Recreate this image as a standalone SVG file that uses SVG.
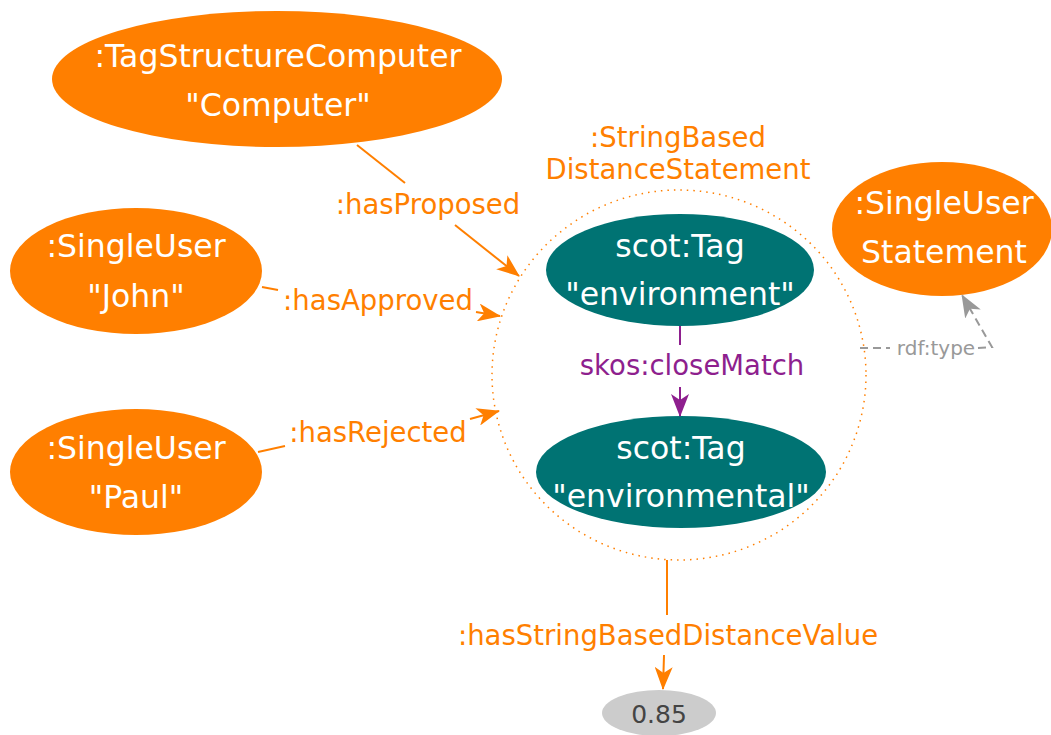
<svg xmlns="http://www.w3.org/2000/svg" width="1051" height="735" viewBox="0 0 1051 735">
<defs>
<style>
.on{fill:#FF7F00}
.tn{fill:#007373}
.nt{font-family:"DejaVu Sans","Liberation Sans",sans-serif;font-size:31.5px;fill:#fff;text-anchor:middle}
.el{font-family:"DejaVu Sans","Liberation Sans",sans-serif;font-size:27.5px;fill:#FF7F00;text-anchor:middle}
.oe{stroke:#FF7F00;stroke-width:2;fill:none}
.pe{stroke:#8E1F8E;stroke-width:2;fill:none}
.ge{stroke:#999;stroke-width:2;fill:none;stroke-dasharray:8,5}
</style>
<marker id="ao" markerWidth="23" markerHeight="18" refX="22" refY="9" orient="auto" markerUnits="userSpaceOnUse" viewBox="0 0 23 18"><path d="M0,0 L23,9 L0,18 L6,9 Z" fill="#FF7F00"/></marker>
<marker id="ap" markerWidth="23" markerHeight="18" refX="22" refY="9" orient="auto" markerUnits="userSpaceOnUse" viewBox="0 0 23 18"><path d="M0,0 L23,9 L0,18 L6,9 Z" fill="#8E1F8E"/></marker>
<marker id="ag" markerWidth="23" markerHeight="18" refX="22" refY="9" orient="auto" markerUnits="userSpaceOnUse" viewBox="0 0 23 18"><path d="M0,0 L23,9 L0,18 L6,9 Z" fill="#999"/></marker>
</defs>
<rect width="1051" height="735" fill="#fff"/>
<g id="statement">
<ellipse cx="679" cy="375" rx="187" ry="185" fill="none" stroke="#FF7F00" stroke-width="1.5" stroke-dasharray="1.5,5"/>
<text class="el" x="678" y="147">:StringBased</text>
<text class="el" x="678" y="179">DistanceStatement</text>
</g>
<g id="computer">
<ellipse class="on" cx="277" cy="79" rx="225" ry="68"/>
<text class="nt" x="278" y="67">:TagStructureComputer</text>
<text class="nt" x="278" y="116">"Computer"</text>
</g>
<g id="john">
<ellipse class="on" cx="136" cy="271" rx="126" ry="63"/>
<text class="nt" x="136" y="257">:SingleUser</text>
<text class="nt" x="136" y="307">"John"</text>
</g>
<g id="paul">
<ellipse class="on" cx="136" cy="472" rx="126" ry="63"/>
<text class="nt" x="136" y="459">:SingleUser</text>
<text class="nt" x="136" y="508">"Paul"</text>
</g>
<g id="singleuserstatement">
<ellipse class="on" cx="942" cy="229" rx="110" ry="67"/>
<text class="nt" x="944" y="214">:SingleUser</text>
<text class="nt" x="944" y="263">Statement</text>
</g>
<g id="tag1">
<ellipse class="tn" cx="680" cy="270" rx="134" ry="56"/>
<text class="nt" x="680" y="257">scot:Tag</text>
<text class="nt" x="680" y="305">"environment"</text>
</g>
<g id="tag2">
<ellipse class="tn" cx="681" cy="472" rx="145" ry="56"/>
<text class="nt" x="681" y="459">scot:Tag</text>
<text class="nt" x="681" y="507">"environmental"</text>
</g>
<g id="value">
<ellipse cx="659" cy="713" rx="57" ry="23" fill="#CCCCCC"/>
<text x="659" y="723" text-anchor="middle" font-family="DejaVu Sans, Liberation Sans, sans-serif" font-size="25" fill="#444">0.85</text>
</g>
<g id="connectors">
<line class="oe" x1="357" y1="145" x2="405" y2="183"/>
<text class="el" x="428" y="214">:hasProposed</text>
<line class="oe" x1="455" y1="225" x2="519" y2="276" marker-end="url(#ao)"/>
<line class="oe" x1="262" y1="287" x2="278" y2="290"/>
<text class="el" x="378" y="310">:hasApproved</text>
<line class="oe" x1="476" y1="312" x2="500" y2="316" marker-end="url(#ao)"/>
<line class="oe" x1="258" y1="452" x2="285" y2="446"/>
<text class="el" x="378" y="442">:hasRejected</text>
<line class="oe" x1="470" y1="419" x2="499" y2="411" marker-end="url(#ao)"/>
<line class="pe" x1="680" y1="326" x2="680" y2="345"/>
<text x="692" y="375" text-anchor="middle" font-family="DejaVu Sans, Liberation Sans, sans-serif" font-size="27.5" fill="#8E1F8E">skos:closeMatch</text>
<line class="pe" x1="680" y1="387" x2="680" y2="416" marker-end="url(#ap)"/>
<line class="oe" x1="667" y1="560" x2="667" y2="615"/>
<text class="el" x="668" y="645">:hasStringBasedDistanceValue</text>
<line class="oe" x1="664" y1="655" x2="663" y2="689" marker-end="url(#ao)"/>
<polyline class="ge" points="860,348 890,348"/>
<text x="936" y="355" text-anchor="middle" font-family="DejaVu Sans, Liberation Sans, sans-serif" font-size="20" fill="#999">rdf:type</text>
<polyline class="ge" points="978,348 992,347 962,295" marker-end="url(#ag)"/>
</g>
</svg>
